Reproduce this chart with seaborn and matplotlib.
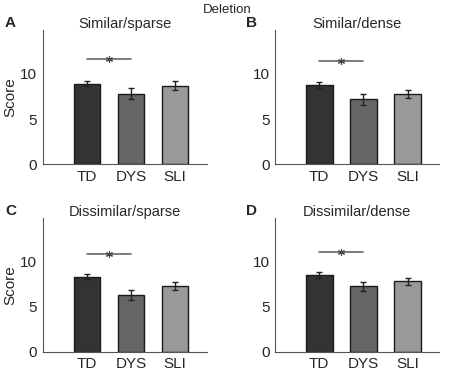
import numpy as np
import pandas as pd
import matplotlib
matplotlib.use("Agg")
import matplotlib.pyplot as plt
import seaborn as sns

# Data
groups = ["TD", "DYS", "SLI"]
panel_letters = ["A", "B", "C", "D"]
panel_titles = ["Similar/sparse", "Similar/dense", "Dissimilar/sparse", "Dissimilar/dense"]
means = {
    "Similar/sparse": [8.9, 7.8, 8.65],
    "Similar/dense": [8.75, 7.2, 7.75],
    "Dissimilar/sparse": [8.28, 6.25, 7.3],
    "Dissimilar/dense": [8.48, 7.25, 7.78],
}
errors = {
    "Similar/sparse": [0.3, 0.6, 0.5],
    "Similar/dense": [0.33, 0.6, 0.47],
    "Dissimilar/sparse": [0.28, 0.55, 0.43],
    "Dissimilar/dense": [0.3, 0.5, 0.42],
}
sig_heights = [11.6, 11.4, 10.8, 11.05]
bar_colors = ["#333333", "#666666", "#999999"]

sns.set_style("white")
plt.rcParams["font.family"] = ["Liberation Sans", "DejaVu Sans"]

fig = plt.figure(figsize=(4.54, 3.72), dpi=100)
boxes = [
    [0.094, 0.558, 0.362, 0.361],
    [0.606, 0.558, 0.362, 0.361],
    [0.094, 0.054, 0.362, 0.361],
    [0.606, 0.054, 0.362, 0.361],
]
letter_x = [-0.23, -0.18, -0.23, -0.18]

for i, title in enumerate(panel_titles):
    ax = fig.add_axes(boxes[i])
    df = pd.DataFrame({"group": groups, "score": means[title]})
    sns.barplot(data=df, x="group", y="score", hue="group", palette=bar_colors,
                order=groups, width=0.6, edgecolor="#1a1a1a", linewidth=1,
                legend=False, ax=ax)
    ax.errorbar(np.arange(3), means[title], yerr=errors[title], fmt="none",
                ecolor="#222222", elinewidth=1, capsize=2.5, capthick=1)
    # significance TD vs DYS
    ax.plot([0, 1], [sig_heights[i], sig_heights[i]], color="#666666", lw=1.2)
    ax.plot([0.5], [sig_heights[i]], marker=(6, 2, 0), color="#444444", ms=5, mew=0.8)

    ax.set_xlim(-1.0, 2.72)
    ax.set_ylim(0, 14.8)
    ax.set_yticks([0, 5, 10])
    ax.set_xlabel("")
    ax.set_ylabel("Score" if i % 2 == 0 else "", fontsize=11, labelpad=2)
    ax.tick_params(axis="y", direction="in", length=2.5, labelsize=11, pad=4, color="#555555")
    ax.tick_params(axis="x", length=0, labelsize=11, pad=4)
    sns.despine(ax=ax)
    ax.spines["left"].set_color("#555555")
    ax.spines["bottom"].set_color("#555555")
    ax.set_title(title, fontsize=10.5, pad=1.5)
    ax.text(letter_x[i], 1.0, panel_letters[i], transform=ax.transAxes,
            fontsize=11, fontweight="bold", va="bottom", ha="left")

fig.text(0.5, 0.99, "Deletion", ha="center", va="top", fontsize=9.5)

fig.savefig("out.png", dpi=100, facecolor="white")
